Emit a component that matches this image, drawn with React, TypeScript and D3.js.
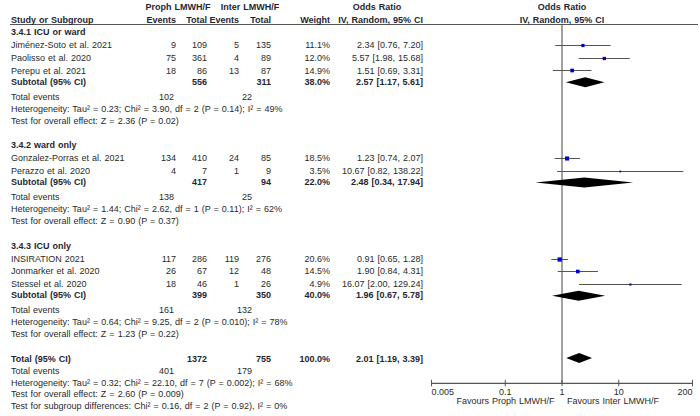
import React from 'react';
import * as d3 from 'd3';

const groupNames = ['3.4.1 ICU or ward', '3.4.2 ward only', '3.4.3 ICU only'];
const studyNames = [
  ['Jiménez-Soto et al. 2021', 'Paolisso et al. 2020', 'Perepu et al. 2021'],
  ['Gonzalez-Porras et al. 2021', 'Perazzo et al. 2020'],
  ['INSIRATION 2021', 'Jonmarker et al. 2020', 'Stessel et al. 2020'],
];
const prophEvents = [[9, 75, 18], [134, 4], [117, 26, 18]];
const prophTotal = [[109, 361, 86], [410, 7], [286, 67, 46]];
const interEvents = [[5, 4, 13], [24, 1], [119, 12, 1]];
const interTotal = [[135, 89, 87], [85, 9], [276, 48, 26]];
const weights = [[11.1, 12.0, 14.9], [18.5, 3.5], [20.6, 14.5, 4.9]];
const orValues = [[2.34, 5.57, 1.51], [1.23, 10.67], [0.91, 1.9, 16.07]];
const ciLower = [[0.76, 1.98, 0.69], [0.74, 0.82], [0.65, 0.84, 2.0]];
const ciUpper = [[7.2, 15.68, 3.31], [2.07, 138.22], [1.28, 4.31, 129.24]];

const subProphTotal = [556, 417, 399];
const subInterTotal = [311, 94, 350];
const subWeight = [38.0, 22.0, 40.0];
const subOR = [2.57, 2.48, 1.96];
const subLower = [1.17, 0.34, 0.67];
const subUpper = [5.61, 17.94, 5.78];
const subProphEvents = [102, 138, 161];
const subInterEvents = [22, 25, 132];
const subHeterogeneity = [
  'Heterogeneity: Tau² = 0.23; Chi² = 3.90, df = 2 (P = 0.14); I² = 49%',
  'Heterogeneity: Tau² = 1.44; Chi² = 2.62, df = 1 (P = 0.11); I² = 62%',
  'Heterogeneity: Tau² = 0.64; Chi² = 9.25, df = 2 (P = 0.010); I² = 78%',
];
const subOverall = [
  'Test for overall effect: Z = 2.36 (P = 0.02)',
  'Test for overall effect: Z = 0.90 (P = 0.37)',
  'Test for overall effect: Z = 1.23 (P = 0.22)',
];

const totalProph = 1372;
const totalInter = 755;
const totalWeight = 100.0;
const totalOR = 2.01;
const totalLower = 1.19;
const totalUpper = 3.39;
const totalProphEvents = 401;
const totalInterEvents = 179;
const totalHeterogeneity = 'Heterogeneity: Tau² = 0.32; Chi² = 22.10, df = 7 (P = 0.002); I² = 68%';
const totalOverall = 'Test for overall effect: Z = 2.60 (P = 0.009)';
const subgroupDiff = 'Test for subgroup differences: Chi² = 0.16, df = 2 (P = 0.92), I² = 0%';

const tickValues = [0.005, 0.1, 1, 10, 200];
const tickLabels = ['0.005', '0.1', '1', '10', '200'];
const favoursLeft = 'Favours Proph LMWH/F';
const favoursRight = 'Favours Inter LMWH/F';

const FONT = "'Liberation Sans', Arial, Helvetica, sans-serif";
const TXT = '#2a2a2a';
const BOLD = '#1f2633';

const fmtOR = (o: number, l: number, u: number) => `${o.toFixed(2)} [${l.toFixed(2)}, ${u.toFixed(2)}]`;

export default function App() {
  const W = 700, H = 416;
  const x = d3.scaleLog().domain([0.005, 200]).range([431.5, 692.5]);
  const axisY = 383.3;
  const headerLineY = 24.5;

  // column anchors
  const cStudy = 11, cPE = 176, cPT = 207, cIE = 239, cIT = 271, cW = 330, cOR = 423;
  const cTEP = 174, cTEI = 252;

  const els: React.ReactNode[] = [];
  let key = 0;
  const T = (xx: number, yy: number, s: string, anchor: 'start' | 'middle' | 'end' = 'start', bold = false) => {
    els.push(
      <text key={key++} x={xx} y={yy + 3.2} textAnchor={anchor} fontWeight={bold ? 'bold' : 'normal'} fill={bold ? BOLD : TXT}>
        {s}
      </text>
    );
  };
  const diamond = (yy: number, o: number, l: number, u: number) => {
    const pts = [[x(l), yy], [x(o), yy - 5], [x(u), yy], [x(o), yy + 5]];
    els.push(<polygon key={key++} points={pts.map((p) => p.join(',')).join(' ')} fill="#000" />);
  };

  // headers
  T(178, 6.5, 'Proph LMWH/F', 'middle', true);
  T(250, 6.5, 'Inter LMWH/F', 'middle', true);
  T(377, 6.5, 'Odds Ratio', 'middle', true);
  T(562, 6.5, 'Odds Ratio', 'middle', true);
  T(cStudy, 19.5, 'Study or Subgroup', 'start', true);
  T(cPE, 19.5, 'Events', 'end', true);
  T(cPT, 19.5, 'Total', 'end', true);
  T(cIE, 19.5, 'Events', 'end', true);
  T(cIT, 19.5, 'Total', 'end', true);
  T(cW, 19.5, 'Weight', 'end', true);
  T(cOR, 19.5, 'IV, Random, 95% CI', 'end', true);
  T(562, 19.5, 'IV, Random, 95% CI', 'middle', true);

  let y = 32;
  groupNames.forEach((g, gi) => {
    T(cStudy, y, g, 'start', true);
    studyNames[gi].forEach((s, si) => {
      y += si === 0 ? 13 : 12.7;
      T(cStudy, y, s);
      T(cPE, y, String(prophEvents[gi][si]), 'end');
      T(cPT, y, String(prophTotal[gi][si]), 'end');
      T(cIE, y, String(interEvents[gi][si]), 'end');
      T(cIT, y, String(interTotal[gi][si]), 'end');
      T(cW, y, weights[gi][si].toFixed(1) + '%', 'end');
      T(cOR, y, fmtOR(orValues[gi][si], ciLower[gi][si], ciUpper[gi][si]), 'end');
      const ly = Math.round(y) + 0.5;
      els.push(
        <line key={key++} x1={x(ciLower[gi][si])} x2={x(ciUpper[gi][si])} y1={ly} y2={ly} stroke="#555" strokeWidth={1} />
      );
      const side = 0.95 * Math.sqrt(weights[gi][si]);
      els.push(
        <rect key={key++} x={x(orValues[gi][si]) - side / 2} y={ly - side / 2} width={side} height={side} fill="#0000cc" />
      );
    });
    y += 11.3;
    T(cStudy, y, 'Subtotal (95% CI)', 'start', true);
    T(cPT, y, String(subProphTotal[gi]), 'end', true);
    T(cIT, y, String(subInterTotal[gi]), 'end', true);
    T(cW, y, subWeight[gi].toFixed(1) + '%', 'end', true);
    T(cOR, y, fmtOR(subOR[gi], subLower[gi], subUpper[gi]), 'end', true);
    diamond(y + 0.5, subOR[gi], subLower[gi], subUpper[gi]);
    y += 15;
    T(cStudy, y, 'Total events');
    T(cTEP, y, String(subProphEvents[gi]), 'end');
    T(cTEI, y, String(subInterEvents[gi]), 'end');
    y += 12;
    T(cStudy, y, subHeterogeneity[gi]);
    y += 11.7;
    T(cStudy, y, subOverall[gi]);
    y += 24.7;
  });

  // overall total
  T(cStudy, y, 'Total (95% CI)', 'start', true);
  T(cPT, y, String(totalProph), 'end', true);
  T(cIT, y, String(totalInter), 'end', true);
  T(cW, y, totalWeight.toFixed(1) + '%', 'end', true);
  T(cOR, y, fmtOR(totalOR, totalLower, totalUpper), 'end', true);
  diamond(y - 0.5, totalOR, totalLower, totalUpper);
  y += 12.2;
  T(cStudy, y, 'Total events');
  T(cTEP, y, String(totalProphEvents), 'end');
  T(cTEI, y, String(totalInterEvents), 'end');
  y += 11.7;
  T(cStudy, y, totalHeterogeneity);
  y += 11.7;
  T(cStudy, y, totalOverall);
  y += 11.7;
  T(cStudy, y, subgroupDiff);

  const [x0, x1] = x.range();

  return (
    <svg
      width={W}
      height={H}
      style={{ position: 'absolute', left: 0, top: 0, background: '#fff', wordSpacing: '0.5px' }}
      fontFamily={FONT}
      fontSize={9}
    >
      <rect x={0} y={0} width={W} height={H} fill="#fff" />
      <line x1={10} x2={698} y1={headerLineY} y2={headerLineY} stroke="#555" strokeWidth={1} />
      <line x1={x(1)} x2={x(1)} y1={headerLineY} y2={axisY} stroke="#444" strokeWidth={1} />
      {els}
      <line x1={x0} x2={x1} y1={axisY} y2={axisY} stroke="#555" strokeWidth={1.2} />
      {tickValues.map((t, i) => (
        <g key={'t' + i}>
          <line x1={x(t)} x2={x(t)} y1={axisY - 3.5} y2={axisY + 3} stroke="#555" strokeWidth={1} />
          <text
            x={x(t)}
            y={axisY + 11.5}
            textAnchor={i === 0 ? 'start' : i === tickValues.length - 1 ? 'end' : 'middle'}
            fill={TXT}
          >
            {tickLabels[i]}
          </text>
        </g>
      ))}
      <text x={x(1) - 7.5} y={axisY + 21} textAnchor="end" fill={TXT}>{favoursLeft}</text>
      <text x={x(1) + 5} y={axisY + 21} textAnchor="start" fill={TXT}>{favoursRight}</text>
    </svg>
  );
}
